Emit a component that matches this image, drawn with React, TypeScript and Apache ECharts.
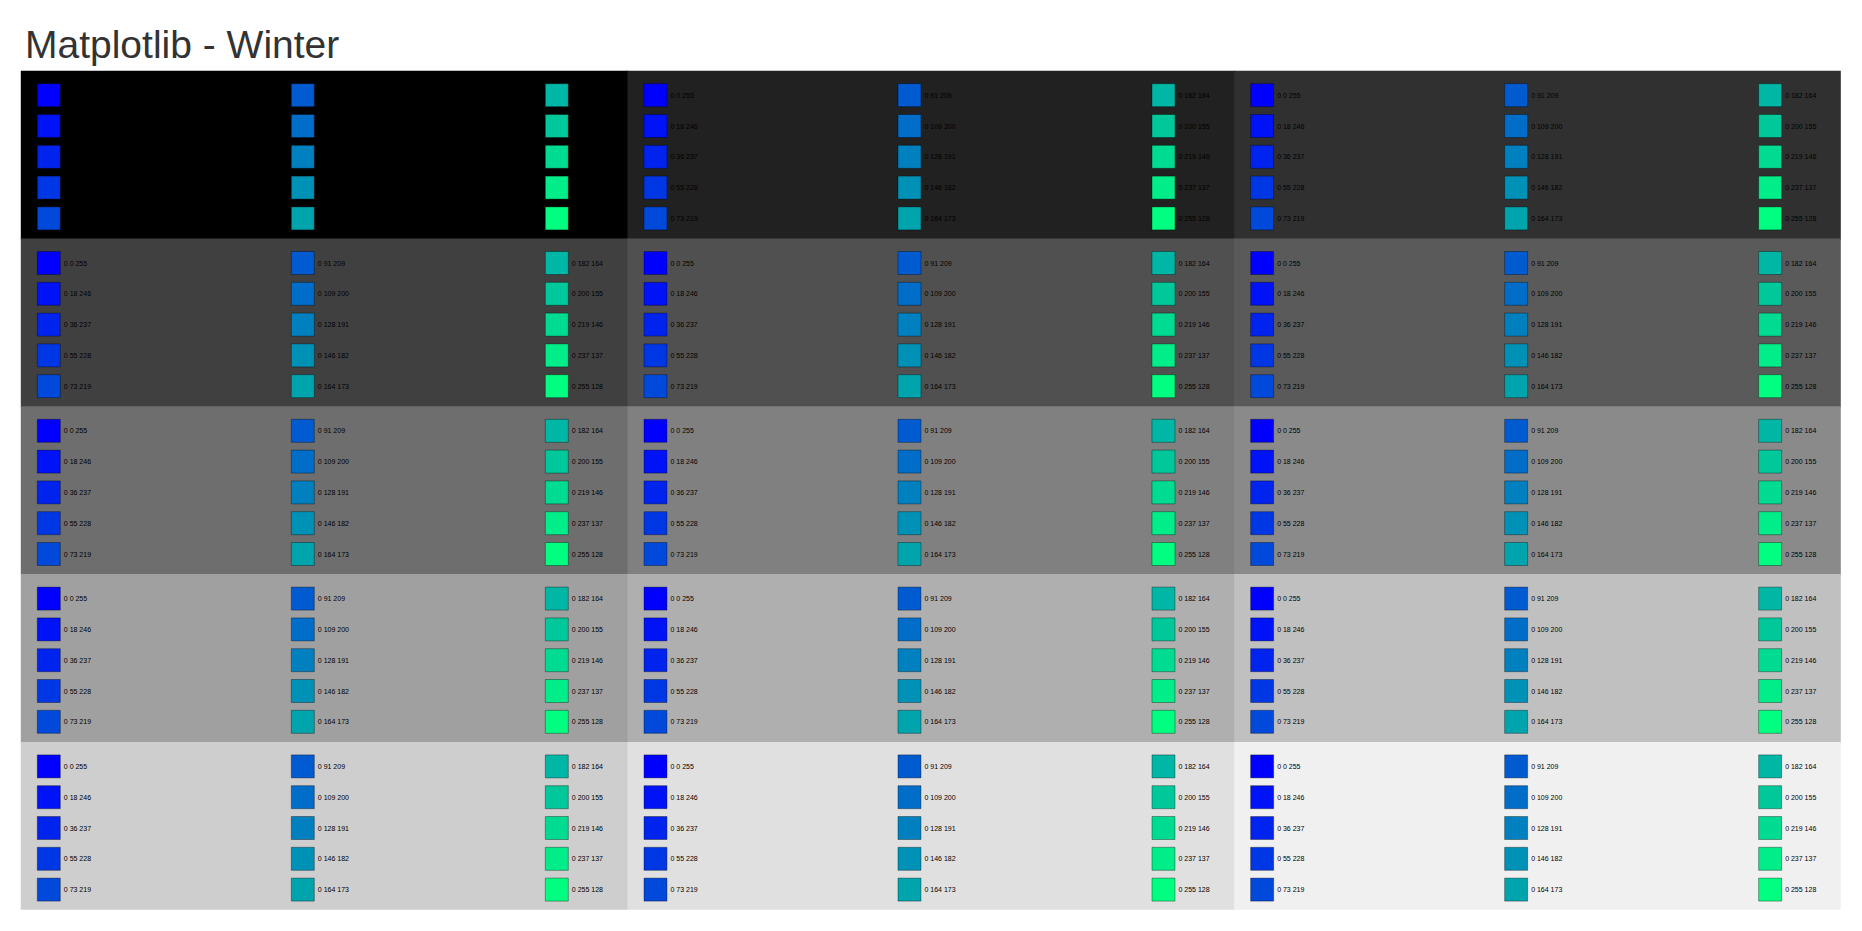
import React, { useEffect, useRef } from "react";
import * as echarts from "echarts";

// ---- Data ----
const TITLE = "Matplotlib - Winter";
// Winter colormap samples (R is always 0)
const REDS = [0, 0, 0, 0, 0, 0, 0, 0, 0, 0, 0, 0, 0, 0, 0];
const GREENS = [0, 18, 36, 55, 73, 91, 109, 128, 146, 164, 182, 200, 219, 237, 255];
const BLUES = [255, 246, 237, 228, 219, 209, 200, 191, 182, 173, 164, 155, 146, 137, 128];
// Background gray level of each of the 15 panels (row-major)
const PANEL_GRAYS = [0, 33, 48, 64, 80, 90, 110, 128, 138, 160, 175, 192, 206, 224, 240];

const PANEL_COLS = 3;
const PANEL_ROWS = 5;
const SWATCH_ROWS = 5;

// ---- Layout (pixels) ----
const AREA_LEFT = 20.8;
const AREA_TOP = 70.7;
const PANEL_W = 606.67;
const PANEL_H = 167.8;
const COL_STEP = 254;
const COL0_CENTER = 28;
const ROW_STEP = 30.8;
const ROW0_CENTER = 24.5;
const FONT = "'Liberation Sans', Arial, Helvetica, sans-serif";

export default function App() {
  const ref = useRef<HTMLDivElement>(null);

  useEffect(() => {
    document.body.style.margin = "0";
    const chart = echarts.init(ref.current!, null, { renderer: "svg" });

    const swatches = GREENS.map((g, k) => ({
      name: `${REDS[k]} ${g} ${BLUES[k]}`,
      value: [Math.floor(k / SWATCH_ROWS), k % SWATCH_ROWS],
      itemStyle: { color: `rgb(${REDS[k]},${g},${BLUES[k]})` },
    }));

    const grids: any[] = [];
    const xAxes: any[] = [];
    const yAxes: any[] = [];
    PANEL_GRAYS.forEach((gray, i) => {
      const c = i % PANEL_COLS;
      const r = Math.floor(i / PANEL_COLS);
      // overlap neighbours by 1px so no anti-aliasing seam shows
      const extraW = c < PANEL_COLS - 1 ? 1 : 0;
      const extraH = r < PANEL_ROWS - 1 ? 1 : 0;
      const w = PANEL_W + extraW;
      const h = PANEL_H + extraH;
      grids.push({
        left: AREA_LEFT + c * PANEL_W,
        top: AREA_TOP + r * PANEL_H,
        width: w,
        height: h,
        show: true,
        backgroundColor: `rgb(${gray},${gray},${gray})`,
        borderWidth: 0,
        borderColor: "transparent",
      });
      const xMin = -COL0_CENTER / COL_STEP;
      const yMin = -ROW0_CENTER / ROW_STEP;
      xAxes.push({
        type: "value",
        gridIndex: i,
        min: xMin,
        max: xMin + w / COL_STEP,
        show: false,
      });
      yAxes.push({
        type: "value",
        gridIndex: i,
        min: yMin,
        max: yMin + h / ROW_STEP,
        inverse: true,
        show: false,
      });
    });

    const option: any = {
      animation: false,
      backgroundColor: "#ffffff",
      title: {
        text: TITLE,
        left: 25,
        top: 25,
        padding: 0,
        textStyle: {
          fontSize: 39,
          fontWeight: "normal",
          color: "#333333",
          fontFamily: FONT,
        },
      },
      grid: grids,
      xAxis: xAxes,
      yAxis: yAxes,
      series: PANEL_GRAYS.map((_, i) => ({
        type: "scatter",
        xAxisIndex: i,
        yAxisIndex: i,
        symbol: "rect",
        symbolSize: 23,
        silent: true,
        data: swatches,
        itemStyle: {
          borderColor: "rgba(0,0,0,0.35)",
          borderWidth: 1,
          opacity: 1,
        },
        label: {
          show: true,
          position: "right",
          distance: 3,
          formatter: "{b}",
          fontSize: 7,
          color: "#000000",
          fontFamily: FONT,
        },
        emphasis: { disabled: true },
      })),
    };

    chart.setOption(option);
    return () => chart.dispose();
  }, []);

  return <div ref={ref} style={{ width: 1862, height: 931 }} />;
}
